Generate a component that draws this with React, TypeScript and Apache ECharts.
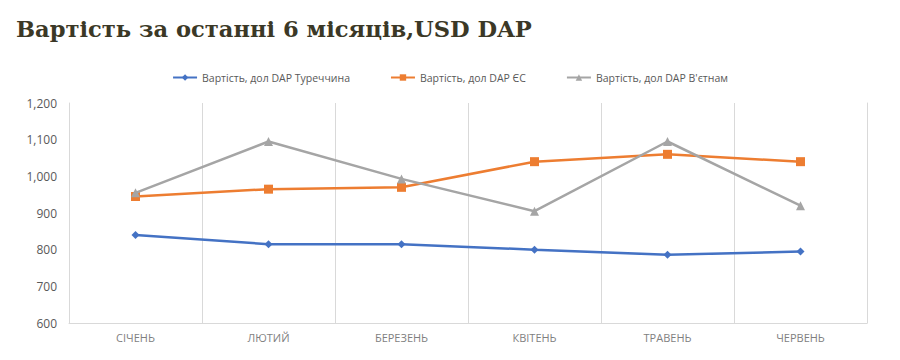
import React, { useEffect, useRef } from "react";
import * as echarts from "echarts";

const categories = ["СІЧЕНЬ", "ЛЮТИЙ", "БЕРЕЗЕНЬ", "КВІТЕНЬ", "ТРАВЕНЬ", "ЧЕРВЕНЬ"];
const turkey = [840, 815, 815, 800, 786, 795];
const eu = [945, 965, 970, 1040, 1060, 1040];
const vietnam = [955, 1095, 993, 905, 1095, 920];
const seriesNames = ["Вартість, дол DAP Туреччина", "Вартість, дол DAP ЄС", "Вартість, дол DAP В'єтнам"];
const colors = ["#4472c4", "#ed7d31", "#a5a5a5"];
const symbols = ["diamond", "rect", "triangle"];
const symbolSizes = [8, 9, 9];

export default function App() {
  const ref = useRef<HTMLDivElement>(null);
  useEffect(() => {
    if (!ref.current) return;
    const chart = echarts.init(ref.current, undefined, { renderer: "svg" });
    const datas = [turkey, eu, vietnam];
    chart.setOption({
      animation: false,
      backgroundColor: "#ffffff",
      title: {
        text: "Вартість за останні 6 місяців,USD DAP",
        left: 11,
        top: 12,
        textStyle: {
          fontFamily: "DejaVu Serif",
          fontWeight: "bold",
          fontSize: 22.6,
          color: "#3b3826",
        },
      },
      legend: {
        top: 67,
        left: "center",
        itemGap: 40,
        itemWidth: 24,
        itemHeight: 8,
        textStyle: { color: "#595959", fontSize: 10.5, fontFamily: "Open Sans" },
        data: seriesNames,
      },
      grid: { left: 69, right: 33, top: 103, bottom: 37, containLabel: false },
      xAxis: {
        type: "category",
        data: categories,
        boundaryGap: true,
        axisLine: { show: true, lineStyle: { color: "#d9d9d9", width: 1 } },
        axisTick: { show: false },
        splitLine: { show: true, lineStyle: { color: "#d9d9d9", width: 1 } },
        axisLabel: { color: "#7f7f7f", fontSize: 11, fontFamily: "Open Sans", margin: 9 },
      },
      yAxis: [
        {
          type: "value",
          min: 600,
          max: 1200,
          interval: 100,
          axisLine: { show: true, lineStyle: { color: "#d9d9d9", width: 1 } },
          axisTick: { show: false },
          splitLine: { show: false },
          axisLabel: {
            color: "#595959",
            fontSize: 12,
            fontFamily: "Open Sans",
            margin: 12,
            formatter: (v: number) => v.toLocaleString("en-US"),
          },
        },
        {
          type: "value",
          position: "right",
          min: 600,
          max: 1200,
          interval: 100,
          axisLine: { show: true, lineStyle: { color: "#d9d9d9", width: 1 } },
          axisTick: { show: false },
          splitLine: { show: false },
          axisLabel: { show: false },
        },
      ],
      series: datas.map((d, i) => ({
        name: seriesNames[i],
        type: "line",
        data: d,
        symbol: symbols[i],
        symbolSize: symbolSizes[i],
        showAllSymbol: true,
        lineStyle: { color: colors[i], width: 2.5 },
        itemStyle: { color: colors[i] },
        z: 3 + i,
      })),
    });
    return () => chart.dispose();
  }, []);
  return <div ref={ref} style={{ width: 900, height: 360, margin: -8 }} />;
}
